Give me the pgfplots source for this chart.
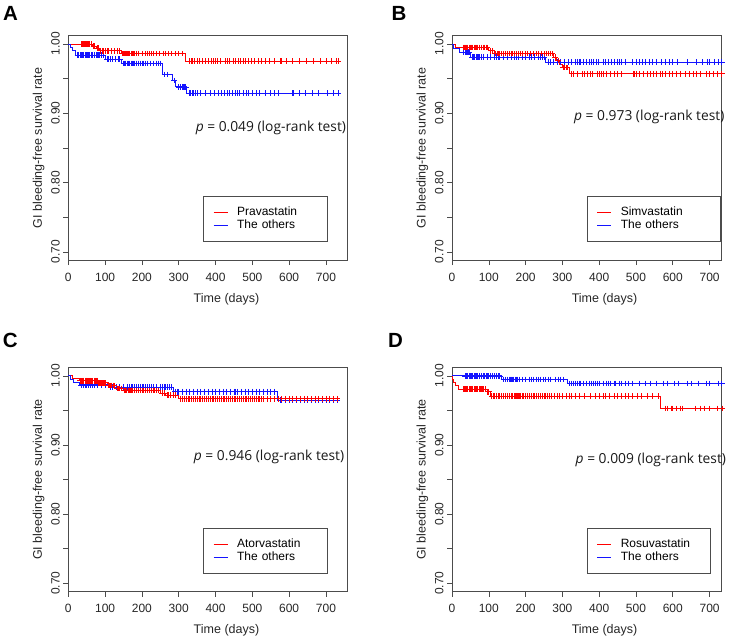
\documentclass[border=0pt]{standalone}
\usepackage{pgfplots}
\pgfplotsset{compat=1.18}
\usepackage{fontspec}
\setmainfont{Liberation Sans}
\newfontfamily\pfont{Open Sans}

\definecolor{kmred}{RGB}{255,0,0}
\definecolor{kmblue}{RGB}{20,20,255}

\pgfplotsset{
  km/.style={
    scale only axis,
    anchor=south west,
    ymin=0.688, ymax=1.012, xmin=0,
    ytick={0.70,0.75,0.80,0.85,0.90,0.95,1.00},
    yticklabels={0.70,,0.80,,0.90,,1.00},
    xtick={0,100,200,300,400,500,600,700},
    xtick pos=left, ytick pos=left,
    tick align=outside, major tick length=5pt,
    tick style={black!70, line width=0.6pt},
    axis line style={black!70, line width=0.8pt},
    /pgf/number format/assume math mode=true,
    tick label style={font=\fontsize{12}{14}\selectfont, text=black!85},
    xticklabel style={yshift=-4pt},
    yticklabel style={rotate=90, anchor=south},
    label style={font=\fontsize{12.5}{15}\selectfont, text=black!85},
    xlabel={Time (days)},
    ylabel={GI bleeding-free survival rate},
    xlabel style={at={(ticklabel cs:0.567)}, yshift=-5pt},
    clip=false,
    legend cell align=left,
    legend image code/.code={\draw[##1, line width=0.8pt] (0pt,0pt) -- (14pt,0pt);},
    legend style={at={(axis cs:366,0.78)}, anchor=north west,
      draw=black!70, line width=0.6pt, inner xsep=10pt, inner ysep=10pt,
      row sep=1pt, column sep=9pt,
      nodes={inner sep=0pt, text height=9pt, text depth=3pt,
        font=\fontsize{12}{14}\selectfont, text width=80pt, align=left}},
  },
  stepline/.style={const plot, line width=0.8pt},
  cens/.style={only marks, mark=+, mark size=2.8pt, line width=0.7pt, forget plot},
  censr/.style={cens, draw=kmred, mark options={draw=kmred}},
  censb/.style={cens, draw=kmblue, mark options={draw=kmblue}},
}
\tikzset{
  pval/.style={anchor=east, inner sep=0pt, font=\pfont\fontsize{13.8}{16}\selectfont, text=black!90},
  panel/.style={inner sep=0pt, font=\bfseries\fontsize{20.5}{24}\selectfont},
}

\begin{document}
\begin{tikzpicture}
\path (0pt,0pt) rectangle (733pt,639pt);

% ---------- A ----------
\node[panel] at (10.5pt,625.7pt) {A};
\begin{axis}[km, at={(68.3pt,378.8pt)}, width=279pt, height=224.6pt, xmax=758]
\addplot[stepline, draw=kmred] coordinates {(0,1)(65,0.997)(75,0.994)(85,0.990)(145,0.986)(317,0.975)(735,0.975)};
\addlegendentry{Pravastatin}
\addplot[stepline, draw=kmblue] coordinates {(0,1)(5,0.995)(12,0.990)(20,0.984)(100,0.978)(145,0.972)(255,0.956)(282,0.947)(292,0.938)(322,0.929)(735,0.929)};
\addlegendentry{The others}
\addplot[censb] coordinates {
(25,0.984)(28,0.984)(32,0.984)(35,0.984)(38,0.984)(42,0.984)(45,0.984)(48,0.984)(52,0.984)(55,0.984)(58,0.984)(62,0.984)(65,0.984)(70,0.984)(75,0.984)(78,0.984)(82,0.984)(85,0.984)(90,0.984)(95,0.984)
(105,0.978)(110,0.978)(115,0.978)(120,0.978)(128,0.978)(135,0.978)(140,0.978)
(150,0.972)(153,0.972)(156,0.972)(160,0.972)(163,0.972)(166,0.972)(170,0.972)(173,0.972)(176,0.972)(180,0.972)(185,0.972)(190,0.972)(195,0.972)(200,0.972)(205,0.972)(210,0.972)(215,0.972)(222,0.972)(230,0.972)(238,0.972)(245,0.972)(250,0.972)
(262,0.956)(270,0.956)(287,0.947)
(300,0.938)(305,0.938)(310,0.938)(313,0.938)(316,0.938)(319,0.938)
(328,0.929)(332,0.929)(336,0.929)(340,0.929)(345,0.929)(350,0.929)(358,0.929)(372,0.929)(385,0.929)(398,0.929)(408,0.929)(415,0.929)(425,0.929)(432,0.929)(438,0.929)(445,0.929)(455,0.929)(460,0.929)(465,0.929)(475,0.929)(485,0.929)(490,0.929)(500,0.929)(510,0.929)(520,0.929)(535,0.929)(548,0.929)(560,0.929)(572,0.929)(608,0.929)(612,0.929)(628,0.929)(645,0.929)(662,0.929)(680,0.929)(705,0.929)(720,0.929)(733,0.929)};
\addplot[censr] coordinates {
(35,1)(38,1)(40,1)(42,1)(44,1)(46,1)(48,1)(52,1)(55,1)(58,1)(62,1)
(68,0.997)(72,0.997)(78,0.994)(82,0.994)
(88,0.990)(92,0.990)(95,0.990)(100,0.990)(105,0.990)(110,0.990)(118,0.990)(125,0.990)(132,0.990)(138,0.990)
(148,0.986)(150,0.986)(152,0.986)(154,0.986)(156,0.986)(158,0.986)(160,0.986)(163,0.986)(166,0.986)(170,0.986)(173,0.986)(176,0.986)(180,0.986)(185,0.986)(190,0.986)(200,0.986)(210,0.986)(215,0.986)(220,0.986)(225,0.986)(232,0.986)(240,0.986)(248,0.986)(258,0.986)(265,0.986)(272,0.986)(280,0.986)(290,0.986)(300,0.986)(310,0.986)
(328,0.975)(333,0.975)(338,0.975)(343,0.975)(350,0.975)(357,0.975)(365,0.975)(372,0.975)(380,0.975)(388,0.975)(395,0.975)(400,0.975)(405,0.975)(412,0.975)(428,0.975)(433,0.975)(438,0.975)(448,0.975)(455,0.975)(462,0.975)(468,0.975)(475,0.975)(482,0.975)(490,0.975)(498,0.975)(505,0.975)(515,0.975)(525,0.975)(535,0.975)(545,0.975)(560,0.975)(575,0.975)(578,0.975)(592,0.975)(610,0.975)(628,0.975)(648,0.975)(665,0.975)(685,0.975)(700,0.975)(715,0.975)(728,0.975)(733,0.975)};
\node[pval] at (axis cs:755,0.879) {\itshape p\upshape\ = 0.049 (log-rank test)};
\end{axis}

% ---------- B ----------
\node[panel] at (399pt,625.7pt) {B};
\begin{axis}[km, at={(452pt,378.8pt)}, width=269pt, height=224.6pt, xmax=731,
  legend style={nodes={text width=90pt}}]
\addplot[stepline, draw=kmred] coordinates {(0,1)(8,0.995)(100,0.990)(115,0.986)(275,0.981)(285,0.976)(292,0.971)(300,0.966)(320,0.957)(735,0.957)};
\addlegendentry{Simvastatin}
\addplot[stepline, draw=kmblue] coordinates {(0,1)(5,0.993)(20,0.988)(50,0.981)(255,0.974)(735,0.974)};
\addlegendentry{The others}
\addplot[censb] coordinates {
(30,0.988)(35,0.988)(38,0.988)(42,0.988)(45,0.988)(48,0.988)
(55,0.981)(58,0.981)(62,0.981)(65,0.981)(68,0.981)(72,0.981)(75,0.981)(80,0.981)(85,0.981)(95,0.981)(105,0.981)(115,0.981)(120,0.981)(125,0.981)(130,0.981)(140,0.981)(150,0.981)(160,0.981)(170,0.981)(175,0.981)(180,0.981)(190,0.981)(200,0.981)(210,0.981)(215,0.981)(225,0.981)(235,0.981)(240,0.981)(245,0.981)(250,0.981)
(262,0.974)(268,0.974)(275,0.974)(285,0.974)(295,0.974)(305,0.974)(315,0.974)(325,0.974)(335,0.974)(340,0.974)(345,0.974)(350,0.974)(358,0.974)(365,0.974)(372,0.974)(378,0.974)(385,0.974)(392,0.974)(398,0.974)(410,0.974)(418,0.974)(425,0.974)(432,0.974)(440,0.974)(448,0.974)(455,0.974)(460,0.974)(470,0.974)(490,0.974)(500,0.974)(510,0.974)(518,0.974)(525,0.974)(535,0.974)(545,0.974)(555,0.974)(568,0.974)(580,0.974)(590,0.974)(600,0.974)(612,0.974)(640,0.974)(665,0.974)(680,0.974)(695,0.974)(700,0.974)(712,0.974)(725,0.974)(733,0.974)};
\addplot[censr] coordinates {
(30,0.995)(33,0.995)(36,0.995)(40,0.995)(43,0.995)(46,0.995)(50,0.995)(53,0.995)(56,0.995)(60,0.995)(63,0.995)(66,0.995)(70,0.995)(75,0.995)(80,0.995)(85,0.995)(88,0.995)(92,0.995)(96,0.995)
(105,0.990)(110,0.990)
(118,0.986)(122,0.986)(126,0.986)(130,0.986)(135,0.986)(140,0.986)(145,0.986)(150,0.986)(155,0.986)(160,0.986)(165,0.986)(170,0.986)(175,0.986)(180,0.986)(185,0.986)(190,0.986)(198,0.986)(205,0.986)(212,0.986)(220,0.986)(228,0.986)(235,0.986)(242,0.986)(250,0.986)(256,0.986)(262,0.986)(268,0.986)(272,0.986)
(280,0.981)(288,0.976)(302,0.966)(306,0.966)(310,0.966)(314,0.966)
(325,0.957)(330,0.957)(340,0.957)(355,0.957)(360,0.957)(368,0.957)(375,0.957)(382,0.957)(395,0.957)(400,0.957)(405,0.957)(410,0.957)(420,0.957)(430,0.957)(440,0.957)(448,0.957)(460,0.957)(492,0.957)(495,0.957)(500,0.957)(510,0.957)(520,0.957)(530,0.957)(540,0.957)(548,0.957)(556,0.957)(565,0.957)(572,0.957)(580,0.957)(590,0.957)(600,0.957)(610,0.957)(620,0.957)(635,0.957)(645,0.957)(655,0.957)(665,0.957)(675,0.957)(690,0.957)(700,0.957)(710,0.957)(722,0.957)(733,0.957)};
\node[pval] at (axis cs:740.7,0.895) {\itshape p\upshape\ = 0.973 (log-rank test)};
\end{axis}

% ---------- C ----------
\node[panel] at (10.3pt,299pt) {C};
\begin{axis}[km, at={(68.3pt,47.4pt)}, width=279pt, height=224pt, xmax=758]
\addplot[stepline, draw=kmred] coordinates {(0,1)(10,0.996)(30,0.993)(80,0.990)(105,0.986)(130,0.982)(150,0.979)(250,0.975)(265,0.972)(300,0.967)(735,0.967)};
\addlegendentry{Atorvastatin}
\addplot[stepline, draw=kmblue] coordinates {(0,1)(5,0.995)(15,0.990)(30,0.987)(110,0.984)(285,0.977)(568,0.965)(735,0.965)};
\addlegendentry{The others}
\addplot[censb] coordinates {
(35,0.987)(40,0.987)(45,0.987)(50,0.987)(55,0.987)(60,0.987)(65,0.987)(70,0.987)(80,0.987)(90,0.987)(100,0.987)
(115,0.984)(120,0.984)(130,0.984)(140,0.984)(150,0.984)(160,0.984)(165,0.984)(170,0.984)(175,0.984)(180,0.984)(185,0.984)(190,0.984)(195,0.984)(200,0.984)(205,0.984)(210,0.984)(215,0.984)(220,0.984)(225,0.984)(230,0.984)(240,0.984)(250,0.984)(255,0.984)(260,0.984)(265,0.984)(270,0.984)(275,0.984)(280,0.984)
(290,0.977)(295,0.977)(300,0.977)(310,0.977)(320,0.977)(330,0.977)(340,0.977)(350,0.977)(360,0.977)(370,0.977)(380,0.977)(390,0.977)(400,0.977)(410,0.977)(420,0.977)(430,0.977)(440,0.977)(450,0.977)(455,0.977)(460,0.977)(470,0.977)(480,0.977)(490,0.977)(500,0.977)(510,0.977)(520,0.977)(530,0.977)(540,0.977)(550,0.977)(560,0.977)
(575,0.965)(580,0.965)(590,0.965)(600,0.965)(610,0.965)(620,0.965)(630,0.965)(640,0.965)(650,0.965)(660,0.965)(670,0.965)(680,0.965)(690,0.965)(700,0.965)(710,0.965)(720,0.965)(730,0.965)};
\addplot[censr] coordinates {
(32,0.993)(35,0.993)(38,0.993)(40,0.993)(42,0.993)(45,0.993)(48,0.993)(50,0.993)(53,0.993)(55,0.993)(58,0.993)(60,0.993)(63,0.993)(66,0.993)(70,0.993)(73,0.993)(76,0.993)(78,0.993)
(82,0.990)(85,0.990)(88,0.990)(90,0.990)(92,0.990)(95,0.990)(98,0.990)(102,0.990)
(108,0.986)(112,0.986)(115,0.986)(118,0.986)(122,0.986)(126,0.986)
(132,0.982)(136,0.982)(140,0.982)(145,0.982)
(152,0.979)(155,0.979)(158,0.979)(162,0.979)(165,0.979)(168,0.979)(172,0.979)(175,0.979)(180,0.979)(185,0.979)(190,0.979)(195,0.979)(200,0.979)(205,0.979)(210,0.979)(215,0.979)(220,0.979)(225,0.979)(230,0.979)(235,0.979)(240,0.979)(245,0.979)
(255,0.975)(260,0.975)
(268,0.972)(272,0.972)(278,0.972)(285,0.972)(292,0.972)
(305,0.967)(310,0.967)(315,0.967)(320,0.967)(325,0.967)(330,0.967)(335,0.967)(340,0.967)(345,0.967)(350,0.967)(355,0.967)(360,0.967)(365,0.967)(370,0.967)(375,0.967)(380,0.967)(385,0.967)(390,0.967)(395,0.967)(400,0.967)(405,0.967)(410,0.967)(415,0.967)(420,0.967)(425,0.967)(430,0.967)(435,0.967)(440,0.967)(445,0.967)(450,0.967)(455,0.967)(460,0.967)(465,0.967)(470,0.967)(475,0.967)(480,0.967)(485,0.967)(490,0.967)(495,0.967)(500,0.967)(505,0.967)(510,0.967)(515,0.967)(520,0.967)(525,0.967)(530,0.967)(540,0.967)(550,0.967)(560,0.967)(570,0.967)(580,0.967)(590,0.967)(600,0.967)(610,0.967)(620,0.967)(630,0.967)(640,0.967)(650,0.967)(660,0.967)(670,0.967)(680,0.967)(690,0.967)(700,0.967)(710,0.967)(720,0.967)(730,0.967)};
\node[pval] at (axis cs:750,0.883) {\itshape p\upshape\ = 0.946 (log-rank test)};
\end{axis}

% ---------- D ----------
\node[panel] at (395.5pt,299pt) {D};
\begin{axis}[km, at={(452pt,47.4pt)}, width=269pt, height=224pt, xmax=731]
\addplot[stepline, draw=kmred] coordinates {(0,1)(2,0.995)(5,0.990)(10,0.986)(18,0.981)(95,0.977)(105,0.971)(567,0.953)(735,0.953)};
\addlegendentry{Rosuvastatin}
\addplot[stepline, draw=kmblue] coordinates {(0,1)(135,0.995)(313,0.989)(735,0.989)};
\addlegendentry{The others}
\addplot[censb] coordinates {
(35,1)(38,1)(40,1)(43,1)(46,1)(50,1)(53,1)(56,1)(60,1)(63,1)(66,1)(70,1)(75,1)(80,1)(85,1)(88,1)(92,1)(96,1)(100,1)(105,1)(110,1)(115,1)(120,1)(125,1)(130,1)
(140,0.995)(145,0.995)(150,0.995)(155,0.995)(158,0.995)(162,0.995)(165,0.995)(168,0.995)(172,0.995)(175,0.995)(178,0.995)(182,0.995)(190,0.995)(200,0.995)(210,0.995)(215,0.995)(220,0.995)(228,0.995)(235,0.995)(240,0.995)(248,0.995)(255,0.995)(262,0.995)(268,0.995)(280,0.995)(288,0.995)(295,0.995)(302,0.995)
(320,0.989)(325,0.989)(330,0.989)(335,0.989)(340,0.989)(345,0.989)(350,0.989)(358,0.989)(365,0.989)(372,0.989)(380,0.989)(385,0.989)(390,0.989)(395,0.989)(400,0.989)(410,0.989)(420,0.989)(425,0.989)(430,0.989)(440,0.989)(445,0.989)(455,0.989)(460,0.989)(470,0.989)(480,0.989)(490,0.989)(510,0.989)(525,0.989)(540,0.989)(555,0.989)(575,0.989)(585,0.989)(605,0.989)(615,0.989)(640,0.989)(650,0.989)(670,0.989)(690,0.989)(700,0.989)(725,0.989)(733,0.989)};
\addplot[censr] coordinates {
(30,0.981)(33,0.981)(36,0.981)(40,0.981)(43,0.981)(46,0.981)(50,0.981)(53,0.981)(56,0.981)(60,0.981)(63,0.981)(66,0.981)(70,0.981)(73,0.981)(76,0.981)(80,0.981)(83,0.981)(86,0.981)(90,0.981)
(97,0.977)(100,0.977)
(108,0.971)(112,0.971)(116,0.971)(120,0.971)(125,0.971)(130,0.971)(135,0.971)(140,0.971)(145,0.971)(150,0.971)(155,0.971)(160,0.971)(165,0.971)(170,0.971)(172,0.971)(175,0.971)(178,0.971)(180,0.971)(183,0.971)(186,0.971)(190,0.971)(195,0.971)(200,0.971)(205,0.971)(210,0.971)(215,0.971)(220,0.971)(225,0.971)(230,0.971)(235,0.971)(240,0.971)(245,0.971)(250,0.971)(255,0.971)(260,0.971)(265,0.971)(270,0.971)(278,0.971)(285,0.971)(292,0.971)(300,0.971)(310,0.971)(318,0.971)(325,0.971)(335,0.971)(345,0.971)(360,0.971)(375,0.971)(390,0.971)(400,0.971)(410,0.971)(418,0.971)(428,0.971)(440,0.971)(450,0.971)(460,0.971)(470,0.971)(480,0.971)(490,0.971)(505,0.971)(515,0.971)(530,0.971)(545,0.971)(560,0.971)
(580,0.953)(585,0.953)(595,0.953)(600,0.953)(610,0.953)(620,0.953)(625,0.953)(660,0.953)(675,0.953)(685,0.953)(700,0.953)(720,0.953)(735,0.953)};
\node[pval] at (axis cs:745,0.878) {\itshape p\upshape\ = 0.009 (log-rank test)};
\end{axis}
\end{tikzpicture}
\end{document}
